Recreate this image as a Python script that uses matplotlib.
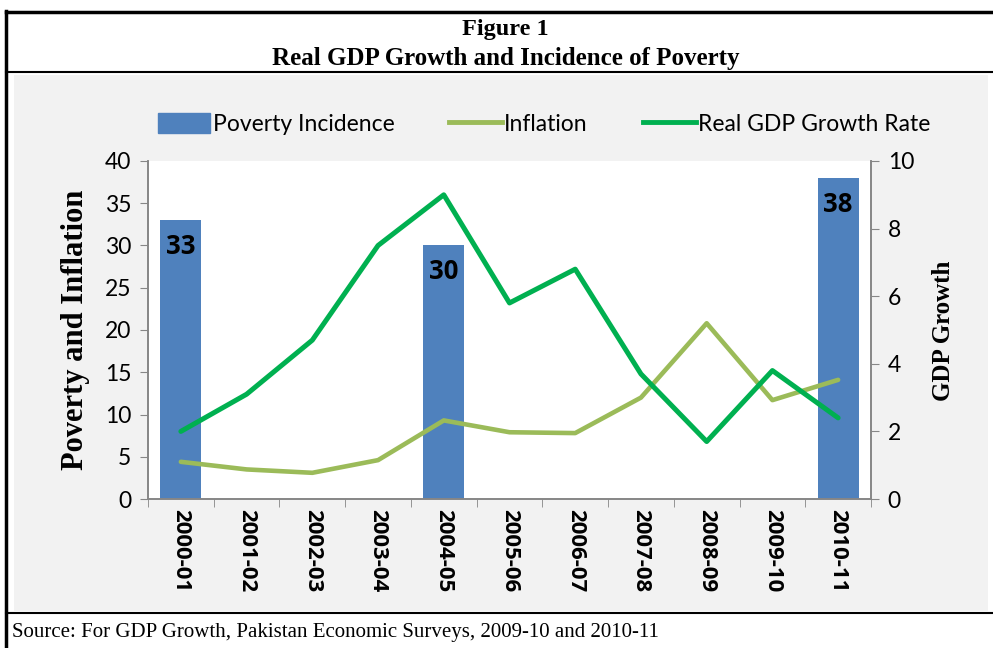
import numpy as np
import matplotlib.pyplot as plt
from matplotlib.patches import Rectangle
from matplotlib.lines import Line2D

# data
years = ["2000-01", "2001-02", "2002-03", "2003-04", "2004-05", "2005-06",
         "2006-07", "2007-08", "2008-09", "2009-10", "2010-11"]
poverty_idx = [0, 4, 10]
poverty = [33, 30, 38]
inflation = [4.4, 3.5, 3.1, 4.6, 9.3, 7.9, 7.8, 12.0, 20.8, 11.7, 14.1]
gdp = [2.0, 3.1, 4.7, 7.5, 9.0, 5.8, 6.8, 3.7, 1.7, 3.8, 2.4]

W, H = 993, 648
fig = plt.figure(figsize=(W / 100, H / 100), dpi=100)
fig.patch.set_facecolor("white")

def fx(px):
    return px / W

def fy(py):
    return 1 - py / H

# frame: gray panel and border lines
fig.add_artist(Rectangle((fx(14), fy(611)), fx(988 - 14), (611 - 75) / H,
                         transform=fig.transFigure, facecolor="#f2f2f2",
                         edgecolor="none", zorder=-5))
frame = dict(transform=fig.transFigure, color="black", zorder=5)
fig.add_artist(Line2D([fx(6), fx(6)], [fy(11), fy(648)], lw=2.5, **frame))
fig.add_artist(Line2D([fx(6), 1], [fy(12), fy(12)], lw=2.5, **frame))
fig.add_artist(Line2D([fx(6), 1], [fy(72), fy(72)], lw=1.5, **frame))
fig.add_artist(Line2D([fx(6), 1], [fy(613), fy(613)], lw=1.5, **frame))

serif = "Liberation Serif"
sans = "Lato"
sans_bold = "Open Sans"

fig.text(fx(505), fy(30), "Figure 1", ha="center", va="center",
         family=serif, weight="bold", fontsize=17.5)
fig.text(fx(506), fy(58), "Real GDP Growth and Incidence of Poverty", ha="center",
         va="center", family=serif, weight="bold", fontsize=18)
fig.text(fx(12), fy(633), "Source: For GDP Growth, Pakistan Economic Surveys, 2009-10 and 2010-11",
         ha="left", va="center", family=serif, fontsize=15)

# main axes
ax = fig.add_axes([fx(148), fy(499), fx(871 - 148), (499 - 161) / H], zorder=1)
ax.set_facecolor("white")
x = np.arange(len(years))

bar_color = "#4f81bd"
infl_color = "#9bbb59"
gdp_color = "#00b050"

ax.bar(x[poverty_idx], poverty, width=0.62, color=bar_color, zorder=2)
for xi, v in zip(x[poverty_idx], poverty):
    ax.text(xi, v - 1.5, str(v), ha="center", va="top", family=sans_bold,
            weight="bold", fontsize=18.5, zorder=4)
ax.plot(x, inflation, color=infl_color, lw=3.3, zorder=3, solid_capstyle="round")

ax.set_xlim(-0.5, len(years) - 0.5)
ax.set_ylim(0, 40)
ax.set_yticks(np.arange(0, 41, 5))
ax.set_xticks(x)
ax.set_xticklabels(years, rotation=-90, family=sans_bold, weight="bold", fontsize=16)
ax.set_xticks(np.arange(-0.5, len(years), 1), minor=True)
ax.tick_params(axis="x", which="major", length=0, pad=7)
ax.tick_params(axis="x", which="minor", length=6, color="#868686", direction="out")
ax.tick_params(axis="y", length=6, color="#868686", labelsize=16.5, pad=6)
for lab in ax.get_yticklabels():
    lab.set_family(sans)

ax2 = ax.twinx()
ax2.plot(x, gdp, color=gdp_color, lw=3.6, zorder=3, solid_capstyle="round")
ax2.set_ylim(0, 10)
ax2.set_yticks(np.arange(0, 11, 2))
ax2.tick_params(axis="y", length=6, color="#868686", labelsize=16.5, pad=6)
for lab in ax2.get_yticklabels():
    lab.set_family(sans)

for a in (ax, ax2):
    a.spines["top"].set_visible(False)
    for s in ("left", "right", "bottom"):
        a.spines[s].set_color("#868686")
        a.spines[s].set_linewidth(1.2)

fig.text(fx(76), fy(330), "Poverty and Inflation", rotation=90, ha="center",
         va="center", family=serif, weight="bold", fontsize=22)
fig.text(fx(943), fy(331), "GDP Growth", rotation=90, ha="center",
         va="center", family=serif, weight="bold", fontsize=18)

# legend
handles = [Rectangle((0, 0), 1, 1, color=bar_color),
           Line2D([], [], color=infl_color, lw=3.5),
           Line2D([], [], color=gdp_color, lw=3.5)]
labels = ["Poverty Incidence", "Inflation", "Real GDP Growth Rate"]
fig.legend(handles, labels, loc="center", bbox_to_anchor=(fx(544), fy(124)),
           ncol=3, frameon=False, prop={"family": sans, "size": 16.5},
           handlelength=2.3, handleheight=1.0, handletextpad=0.1,
           columnspacing=2.4)

fig.savefig("out.png", dpi=100)
